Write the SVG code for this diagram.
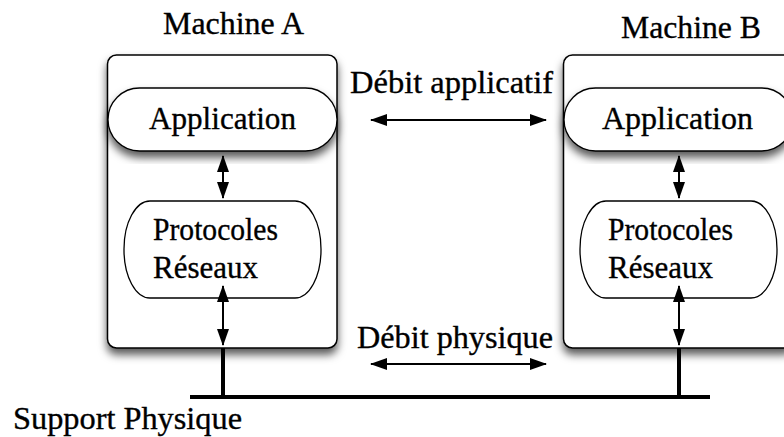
<svg xmlns="http://www.w3.org/2000/svg" width="784" height="437" viewBox="0 0 784 437">
  <style>
    text { font-family: "Liberation Serif", "Times New Roman", serif; font-size: 32.5px; fill: #000; stroke: #000; stroke-width: 0.35; }
    .box { fill: #fff; stroke: #000; stroke-width: 1.5; }
    .pill { fill: #fff; stroke: #000; stroke-width: 1.3; }
    .arrow { fill: none; stroke: #000; stroke-width: 2; marker-start: url(#head); marker-end: url(#head); }
    .wire { fill: none; stroke: #000; stroke-width: 4; }
  </style>
  <defs>
    <marker id="head" markerUnits="userSpaceOnUse" markerWidth="17" markerHeight="13" refX="16" refY="6.5" orient="auto-start-reverse">
      <path d="M0,0.5 L17,6.5 L0,12.5 z" fill="#000"/>
    </marker>
    <filter id="shadow" x="-20%" y="-20%" width="140%" height="140%">
      <feDropShadow dx="0" dy="6" stdDeviation="4.5" flood-color="#000" flood-opacity="0.65"/>
    </filter>
  </defs>

  <rect width="784" height="437" fill="#fff"/>

  <!-- Machine A -->
  <g id="machine-a">
    <rect class="box" x="107.5" y="55" width="229.5" height="293" rx="9" filter="url(#shadow)"/>
    <text x="163" y="34" textLength="141" lengthAdjust="spacingAndGlyphs">Machine A</text>
  </g>
  <g id="application-a">
    <rect class="pill" x="108" y="88" width="229" height="63" rx="31.5" filter="url(#shadow)"/>
    <text x="149" y="129" textLength="147" lengthAdjust="spacingAndGlyphs">Application</text>
  </g>
  <g id="protocoles-a">
    <rect class="pill" x="124" y="201" width="197" height="97" rx="26" ry="48"/>
    <text x="153" y="240" textLength="125" lengthAdjust="spacingAndGlyphs">Protocoles</text>
    <text x="153" y="278" textLength="105" lengthAdjust="spacingAndGlyphs">Réseaux</text>
  </g>

  <!-- Machine B -->
  <g id="machine-b">
    <rect class="box" x="563.5" y="55" width="229.5" height="293" rx="9" filter="url(#shadow)"/>
    <text x="621" y="38" textLength="140" lengthAdjust="spacingAndGlyphs">Machine B</text>
  </g>
  <g id="application-b">
    <rect class="pill" x="564" y="88" width="229" height="63" rx="31.5" filter="url(#shadow)"/>
    <text x="602" y="129" textLength="151" lengthAdjust="spacingAndGlyphs">Application</text>
  </g>
  <g id="protocoles-b">
    <rect class="pill" x="580" y="201" width="197" height="97" rx="26" ry="48"/>
    <text x="608" y="240" textLength="125" lengthAdjust="spacingAndGlyphs">Protocoles</text>
    <text x="608" y="278" textLength="105" lengthAdjust="spacingAndGlyphs">Réseaux</text>
  </g>

  <!-- Physical medium -->
  <g id="support-physique">
    <line class="wire" x1="190" y1="397" x2="710" y2="397"/>
    <text x="13" y="429" textLength="229" lengthAdjust="spacingAndGlyphs">Support Physique</text>
  </g>

  <!-- Rate labels -->
  <g id="labels">
    <text x="350" y="93" textLength="203" lengthAdjust="spacingAndGlyphs">Débit applicatif</text>
    <text x="357" y="348" textLength="196" lengthAdjust="spacingAndGlyphs">Débit physique</text>
  </g>

  <!-- Connectors -->
  <g id="connectors">
    <line class="arrow" x1="223" y1="156" x2="223" y2="198"/>
    <line class="arrow" x1="223" y1="286" x2="223" y2="345"/>
    <line class="wire" x1="223" y1="348" x2="223" y2="397"/>
    <line class="arrow" x1="679" y1="156" x2="679" y2="198"/>
    <line class="arrow" x1="679" y1="286" x2="679" y2="345"/>
    <line class="wire" x1="679" y1="348" x2="679" y2="397"/>
    <line class="arrow" x1="371" y1="120" x2="546" y2="120"/>
    <line class="arrow" x1="371" y1="364" x2="546" y2="364"/>
  </g>
</svg>
